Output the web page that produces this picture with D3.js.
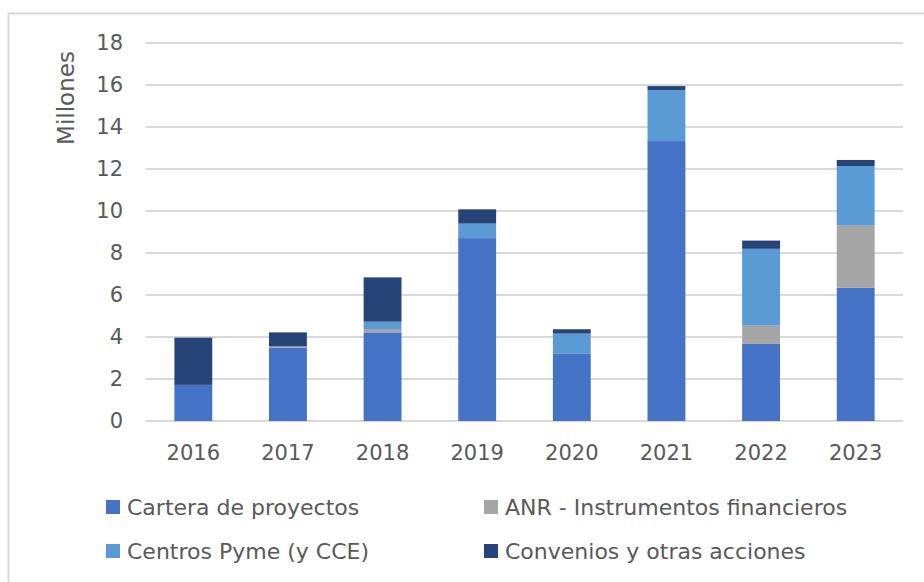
<!DOCTYPE html>
<html>
<head>
<meta charset="utf-8">
<script src="https://cdn.jsdelivr.net/npm/d3@7"></script>
<style>
  body { margin: 0; background: #fff; }
  text { font-family: "DejaVu Sans", sans-serif; fill: #595959; }
</style>
</head>
<body>
<div class="chart"></div>
<script>
// values in millions
let years = ["2016", "2017", "2018", "2019", "2020", "2021", "2022", "2023"]
let cartera = [1.72, 3.50, 4.22, 8.71, 3.22, 13.33, 3.67, 6.35]
let anr = [0, 0.05, 0.16, 0, 0, 0, 0.87, 2.98]
let centros = [0, 0, 0.35, 0.69, 0.94, 2.42, 3.66, 2.81]
let convenios = [2.25, 0.67, 2.11, 0.68, 0.21, 0.20, 0.39, 0.29]
let seriesNames = ["Cartera de proyectos", "ANR - Instrumentos financieros", "Centros Pyme (y CCE)", "Convenios y otras acciones"]
let seriesColors = ["#4472C4", "#A5A5A5", "#5B9BD5", "#264478"]
let yTicks = [0, 2, 4, 6, 8, 10, 12, 14, 16, 18]

let keys = ["cartera", "anr", "centros", "convenios"]
let rows = years.map((y, i) => ({
  year: y,
  cartera: cartera[i],
  anr: anr[i],
  centros: centros[i],
  convenios: convenios[i]
}))

let width = 924, height = 582
let svg = d3.select(".chart")
  .append("svg")
  .attr("width", width)
  .attr("height", height)

// outer frame
svg.append("rect")
  .attr("x", 8.5).attr("y", 13.5)
  .attr("width", width).attr("height", height)
  .attr("fill", "none")
  .attr("stroke", "#D9D9D9")
  .attr("stroke-width", 2)

let x = d3.scaleBand()
  .domain(years)
  .range([146, 903])
  .paddingInner(0.6)
  .paddingOuter(0.3)

let y = d3.scaleLinear()
  .domain([0, 18])
  .range([421, 43])

// gridlines
svg.append("g")
  .selectAll("line")
  .data(yTicks)
  .enter()
  .append("line")
  .attr("x1", 146).attr("x2", 903)
  .attr("y1", d => y(d)).attr("y2", d => y(d))
  .attr("stroke", "#D9D9D9")
  .attr("stroke-width", 2)

let stack = d3.stack().keys(keys)(rows)

svg.append("g")
  .selectAll("g")
  .data(stack)
  .enter()
  .append("g")
  .attr("fill", (d, i) => seriesColors[i])
  .selectAll("rect")
  .data(d => d)
  .enter()
  .append("rect")
  .attr("x", d => x(d.data.year))
  .attr("width", x.bandwidth())
  .attr("y", d => y(d[1]))
  .attr("height", d => y(d[0]) - y(d[1]))

// y axis labels
let yAxis = svg.append("g")
  .attr("transform", "translate(123,0)")
  .call(d3.axisLeft(y).tickValues(yTicks).tickSize(0).tickPadding(0))
yAxis.select(".domain").remove()
yAxis.selectAll("text")
  .attr("font-size", 21)
  .attr("font-family", null)
  .attr("fill", "#595959")

// x axis labels
let xAxis = svg.append("g")
  .attr("transform", "translate(0,445)")
  .call(d3.axisBottom(x).tickSize(0).tickPadding(0))
xAxis.select(".domain").remove()
xAxis.selectAll("text")
  .attr("font-size", 21)
  .attr("font-family", null)
  .attr("fill", "#595959")

svg.append("text")
  .attr("transform", "translate(74,98) rotate(-90)")
  .attr("text-anchor", "middle")
  .attr("font-size", 23)
  .text("Millones")

// legend
let legendPos = [[106, 507], [484, 507], [106, 551], [484, 551]]
let legend = svg.append("g")
  .selectAll("g")
  .data(seriesNames)
  .enter()
  .append("g")
  .attr("transform", (d, i) => `translate(${legendPos[i][0]},${legendPos[i][1]})`)
legend.append("rect")
  .attr("x", 0).attr("y", -7)
  .attr("width", 14).attr("height", 14)
  .attr("fill", (d, i) => seriesColors[i])
legend.append("text")
  .attr("x", 21)
  .attr("dy", "0.35em")
  .attr("font-size", 22)
  .text(d => d)
</script>
</body>
</html>
